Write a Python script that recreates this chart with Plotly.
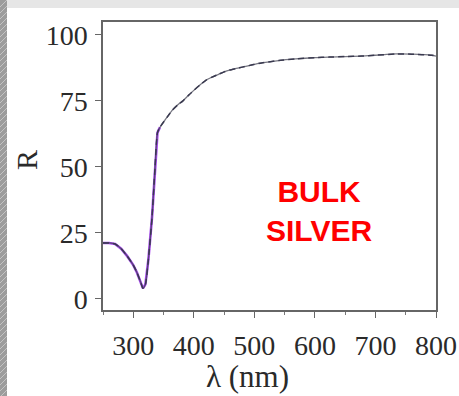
import plotly.graph_objects as go

# Reflectance spectrum of bulk silver
wavelength_nm = [250, 260, 270, 280, 290, 300, 306, 312, 316, 320, 325, 331, 336,
                 340, 344, 350, 358, 365, 375, 382, 392, 400, 410, 421, 430, 440,
                 450, 459, 470, 480, 495, 512, 540, 568, 600, 623, 650, 677, 700,
                 734, 760, 793, 800]
reflectance = [21.2, 21.2, 20.8, 19.0, 16.2, 12.8, 10.0, 6.5, 4.0, 5.5, 15.0, 31.0,
               50.0, 63.0, 65.0, 67.0, 69.5, 71.6, 73.8, 75.0, 77.3, 79.0, 81.0,
               83.0, 84.0, 85.0, 86.0, 86.7, 87.3, 87.8, 88.6, 89.4, 90.3, 90.9,
               91.4, 91.6, 91.8, 92.0, 92.3, 92.8, 92.7, 92.3, 92.0]
# The calculated curve is highlighted across the plasmon dip
model_cut_nm = 344

x_ticks = [300, 400, 500, 600, 700, 800]
y_ticks = [0, 25, 50, 75, 100]
label_text = "BULK<br>SILVER"

W, H = 459, 396
L, R_, T, B = 103, 23, 22, 86

model_x = [w for w in wavelength_nm if w <= model_cut_nm]
model_y = reflectance[:len(model_x)]

fig = go.Figure()
fig.add_trace(go.Scatter(x=model_x, y=model_y, mode="lines",
                         line=dict(color="#a94cf0", width=2.6), hoverinfo="skip"))
fig.add_trace(go.Scatter(x=wavelength_nm, y=reflectance, mode="lines", line_shape="spline",
                         line=dict(color="rgba(60,60,75,0.7)", width=1.3, smoothing=0.6),
                         hoverinfo="skip"))
fig.add_trace(go.Scatter(x=wavelength_nm, y=reflectance, mode="lines", line_shape="spline",
                         line=dict(color="#3a3a50", width=1.5, dash="6px,4px", smoothing=0.6),
                         hoverinfo="skip"))

serif = "Liberation Serif"
axis_common = dict(showline=True, linecolor="#666666", linewidth=1.5, mirror=True,
                   ticks="outside", ticklen=6, tickwidth=1.2, tickcolor="#666666",
                   showgrid=False, zeroline=False, automargin=False,
                   tickfont=dict(family=serif, size=28, color="#2a2a2a"))

fig.update_xaxes(range=[250, 800], tickvals=x_ticks,
                 minor=dict(ticks="outside", ticklen=3, tickcolor="#777777", dtick=50, tick0=250),
                 ticklabelstandoff=4, **axis_common)
fig.update_yaxes(range=[-4.2, 104.9], tickvals=y_ticks, ticklabelstandoff=2, **axis_common)

def px_to_paper_x(px):
    return (px - L) / (W - L - R_)

def px_to_paper_y(py):
    return (H - B - py) / (H - T - B)

shapes = []
# grey frame around the white panel
shapes.append(dict(type="rect", xref="paper", yref="paper", layer="below",
                   x0=px_to_paper_x(0), x1=px_to_paper_x(W), y0=px_to_paper_y(0), y1=px_to_paper_y(8),
                   fillcolor="#e6e6e6", line=dict(width=0)))
shapes.append(dict(type="rect", xref="paper", yref="paper", layer="below",
                   x0=px_to_paper_x(0), x1=px_to_paper_x(7), y0=px_to_paper_y(H), y1=px_to_paper_y(0),
                   fillcolor="#9c9c9c", line=dict(width=0)))
# diagonal hatching on the left strip
for k in range(0, H + 10, 6):
    shapes.append(dict(type="line", xref="paper", yref="paper", layer="below",
                       x0=px_to_paper_x(0), y0=px_to_paper_y(k + 7),
                       x1=px_to_paper_x(7), y1=px_to_paper_y(k),
                       line=dict(color="#c4c4c4", width=1)))

fig.update_layout(
    width=W, height=H,
    margin=dict(l=L, r=R_, t=T, b=B, autoexpand=False),
    paper_bgcolor="white", plot_bgcolor="white",
    showlegend=False,
    shapes=shapes,
    annotations=[
        dict(text=label_text, xref="paper", yref="paper",
             x=px_to_paper_x(319), y=px_to_paper_y(211), xanchor="center", yanchor="middle",
             showarrow=False, align="center",
             font=dict(family="Liberation Sans", size=30, color="#ff0000", weight="bold")),
        dict(text="λ (nm)", xref="paper", yref="paper",
             x=px_to_paper_x(247), y=px_to_paper_y(376), xanchor="center", yanchor="middle",
             showarrow=False, font=dict(family=serif, size=31, color="#2a2a2a")),
        dict(text="R", xref="paper", yref="paper", textangle=-90,
             x=px_to_paper_x(26), y=px_to_paper_y(160), xanchor="center", yanchor="middle",
             showarrow=False, font=dict(family=serif, size=30, color="#2a2a2a")),
    ],
)

fig.write_html("out.html")
